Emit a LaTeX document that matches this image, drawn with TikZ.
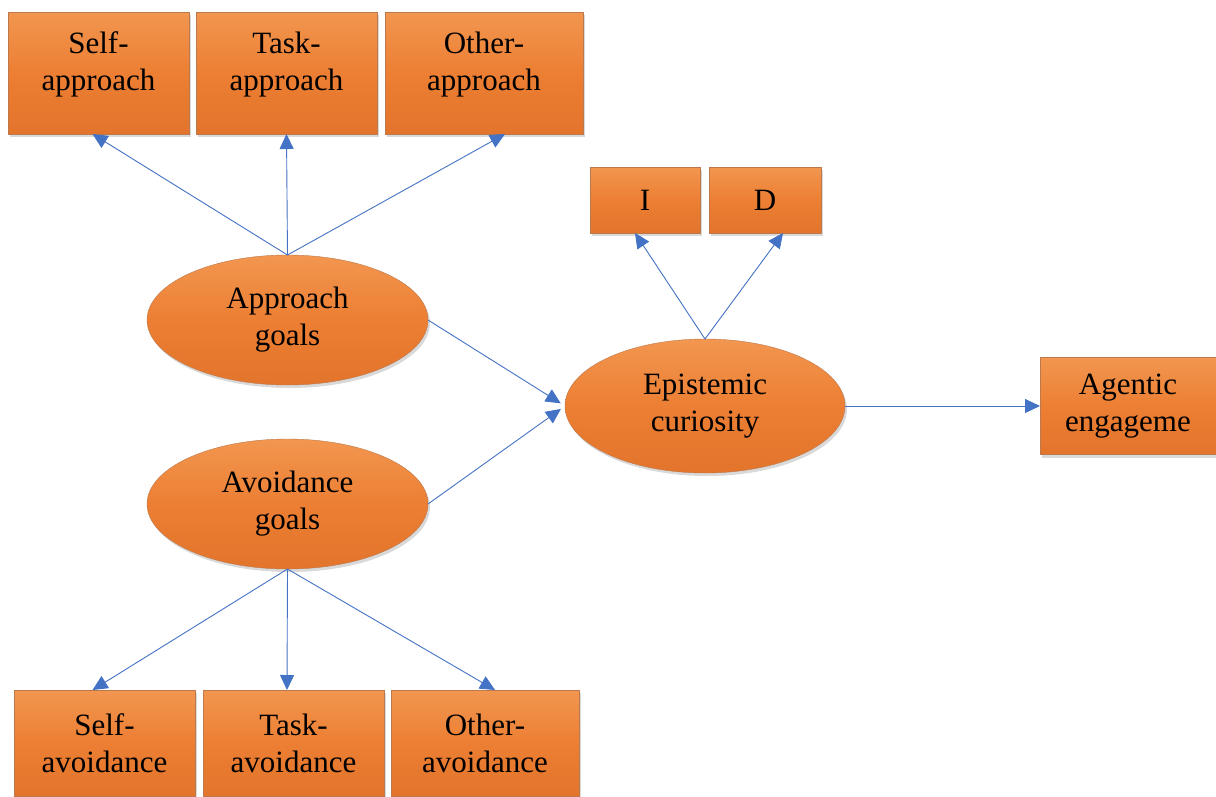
\documentclass[tikz,border=0pt]{standalone}
\usepackage{fontspec}
\setmainfont{Liberation Serif}
\usetikzlibrary{
  arrows.meta,
  shadows,
  shapes.geometric,
}
\definecolor{org}{HTML}{EC7F33}
\definecolor{orgtop}{HTML}{F29650}
\definecolor{orgbot}{HTML}{E3742C}
\definecolor{lnk}{HTML}{4472C4}

\begin{document}
\begin{tikzpicture}[
    x = 1pt,
    y = -1pt,
    n/.style={
      draw=orgbot!60!gray, top color=orgtop, bottom color=orgbot,
      middle color=org, inner sep=0pt, outer sep=0pt, align=center,
      font=\fontsize{31}{37}\selectfont,
      drop shadow={opacity=.3, shadow xshift=2pt, shadow yshift=-3pt},
    },
    e/.style={n, ellipse, minimum width=281pt, minimum height=130pt},
    up/.style={text depth=24pt},
    a/.style={>={Triangle[length=15pt,width=14pt]}, draw=lnk,
      line width=.9pt},]
  \useasboundingbox (0,0) rectangle (1216,796);
  %% goal boxes on top
  \node[n,up,minimum width=181pt,minimum height=122pt](SelfApp) at (98.5,73)
  {Self-\\approach};
  \node[n,up,minimum width=181pt,minimum height=122pt](TaskApp) at (286.5,73)
  {Task-\\approach};
  \node[n,up,minimum width=198pt,minimum height=122pt](OtherApp) at (484,73)
  {Other-\\approach};
  %% ellipses
  \node[e](Appr) at (287.5,320) {Approach\\goals};
  \node[e](Avoid) at (287.5,504) {Avoidance\\goals};
  \node[e,minimum width=280pt,minimum height=134pt](Epi) at (705,406)
  {Epistemic\\curiosity};
  %%
  \node[n,minimum width=110pt,minimum height=66pt](I) at (645,200) {I};
  \node[n,minimum width=112pt,minimum height=66pt](D) at (765,200) {D};
  \node[n,minimum width=176pt,minimum height=97pt](Agent) at (1128,406)
  {Agentic\\engageme};
  %% goal boxes at the bottom
  \node[n,minimum width=181pt,minimum height=106pt](SelfAvo) at (104.5,743)
  {Self-\\avoidance};
  \node[n,minimum width=181pt,minimum height=106pt](TaskAvo) at (293.5,743)
  {Task-\\avoidance};
  \node[n,minimum width=188pt,minimum height=106pt](OtherAvo) at (485,743)
  {Other-\\avoidance};
  %%
  \draw[->,a](Appr.north) -- ([xshift=-6pt]SelfApp.south);
  \draw[->,a](Appr.north) -- (TaskApp.south);
  \draw[->,a](Appr.north) -- ([xshift=21pt]OtherApp.south);
  %%
  \draw[->,a,shorten >=5pt](Appr.east) -- (Epi.west);
  \draw[->,a,shorten >=5pt](Avoid.east) -- (Epi.west);
  %%
  \draw[->,a](Epi.north) -- ([xshift=-10pt]I.south);
  \draw[->,a](Epi.north) -- ([xshift=18pt]D.south);
  \draw[->,a](Epi.east) -- (Agent.west);
  %%
  \draw[->,a](Avoid.south) -- ([xshift=-12pt]SelfAvo.north);
  \draw[->,a](Avoid.south) -- ([xshift=-6.5pt]TaskAvo.north);
  \draw[->,a](Avoid.south) -- ([xshift=10pt]OtherAvo.north);
\end{tikzpicture}
\end{document}
